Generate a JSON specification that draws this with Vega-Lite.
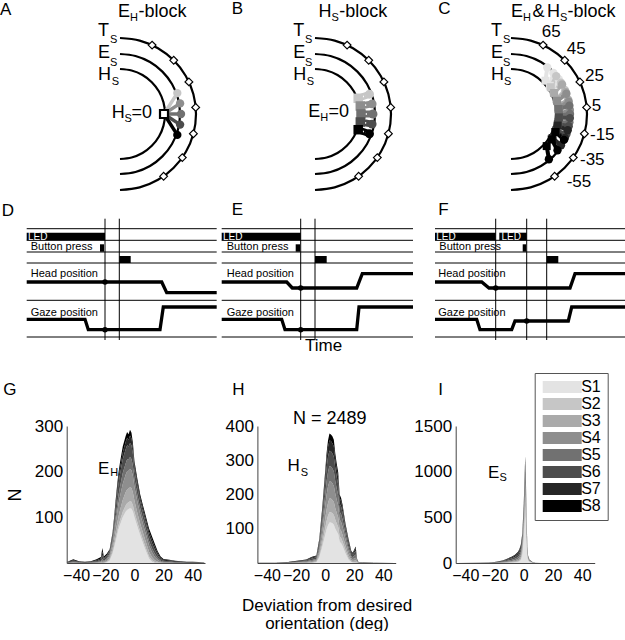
{
"$schema":"https://vega.github.io/schema/vega-lite/v6.json",
"background":"white",
"padding":0,
"config":{"font":"Liberation Sans","view":{"stroke":null},
 "axis":{"labelFontSize":17,"labelColor":"#000","ticks":false,"tickSize":0,"domainColor":"#444","domainWidth":1,"grid":false,"labelPadding":4,"titleFontWeight":"normal","titleColor":"#000","labelOverlap":false,"labelFlush":false,"labelBound":false,"labelSeparation":-15},
 "axisX":{"labelOverlap":false},
 "axisQuantitative":{"labelOverlap":false}},
"datasets":{
 "arcs":[
  {"arc":"T","o":0,"x":0,"y":76},{"arc":"T","o":1,"x":19.7,"y":73.4},{"arc":"T","o":2,"x":38,"y":65.8},{"arc":"T","o":3,"x":53.7,"y":53.7},{"arc":"T","o":4,"x":65.8,"y":38},{"arc":"T","o":5,"x":73.4,"y":19.7},{"arc":"T","o":6,"x":76,"y":0},{"arc":"T","o":7,"x":73.4,"y":-19.7},{"arc":"T","o":8,"x":65.8,"y":-38},{"arc":"T","o":9,"x":53.7,"y":-53.7},{"arc":"T","o":10,"x":38,"y":-65.8},{"arc":"T","o":11,"x":19.7,"y":-73.4},{"arc":"T","o":12,"x":0,"y":-76},
  {"arc":"E","o":0,"x":0,"y":60},{"arc":"E","o":1,"x":15.5,"y":58},{"arc":"E","o":2,"x":30,"y":52},{"arc":"E","o":3,"x":42.4,"y":42.4},{"arc":"E","o":4,"x":52,"y":30},{"arc":"E","o":5,"x":58,"y":15.5},{"arc":"E","o":6,"x":60,"y":0},{"arc":"E","o":7,"x":58,"y":-15.5},{"arc":"E","o":8,"x":52,"y":-30},{"arc":"E","o":9,"x":42.4,"y":-42.4},{"arc":"E","o":10,"x":30,"y":-52},{"arc":"E","o":11,"x":15.5,"y":-58},{"arc":"E","o":12,"x":0,"y":-60},
  {"arc":"H","o":0,"x":0,"y":45},{"arc":"H","o":1,"x":11.6,"y":43.5},{"arc":"H","o":2,"x":22.5,"y":39},{"arc":"H","o":3,"x":31.8,"y":31.8},{"arc":"H","o":4,"x":39,"y":22.5},{"arc":"H","o":5,"x":43.5,"y":11.6},{"arc":"H","o":6,"x":45,"y":0},{"arc":"H","o":7,"x":43.5,"y":-11.6},{"arc":"H","o":8,"x":39,"y":-22.5},{"arc":"H","o":9,"x":31.8,"y":-31.8},{"arc":"H","o":10,"x":22.5,"y":-39},{"arc":"H","o":11,"x":11.6,"y":-43.5},{"arc":"H","o":12,"x":0,"y":-45}
 ],
 "diamonds":[{"a":65,"x":32.1,"y":68.9},{"a":45,"x":53.7,"y":53.7},{"a":25,"x":68.9,"y":32.1},{"a":5,"x":75.7,"y":6.6},{"a":-15,"x":73.4,"y":-19.7},{"a":-35,"x":62.3,"y":-43.6},{"a":-55,"x":43.6,"y":-62.3}],
 "apairs":[
  {"s":"S2","p":1,"k":"sq","x":44,"y":0},{"s":"S2","p":1,"k":"ci","x":57.3,"y":20.9},
  {"s":"S4","p":2,"k":"sq","x":44,"y":0},{"s":"S4","p":2,"k":"ci","x":60.1,"y":10.6},
  {"s":"S5","p":3,"k":"sq","x":44,"y":0},{"s":"S5","p":3,"k":"ci","x":61,"y":0},
  {"s":"S6","p":4,"k":"sq","x":44,"y":0},{"s":"S6","p":4,"k":"ci","x":60.1,"y":-10.6},
  {"s":"S8","p":5,"k":"sq","x":44,"y":0},{"s":"S8","p":5,"k":"ci","x":57.3,"y":-20.9}
 ],
 "bpairs":[
  {"s":"S2","p":1,"k":"sq","x":43.2,"y":15.7},{"s":"S2","p":1,"k":"ci","x":54.5,"y":19.8},
  {"s":"S4","p":2,"k":"sq","x":45.3,"y":8.0},{"s":"S4","p":2,"k":"ci","x":57.1,"y":10.1},
  {"s":"S5","p":3,"k":"sq","x":46,"y":0},{"s":"S5","p":3,"k":"ci","x":58,"y":0},
  {"s":"S6","p":4,"k":"sq","x":45.3,"y":-8.0},{"s":"S6","p":4,"k":"ci","x":57.1,"y":-10.1},
  {"s":"S8","p":5,"k":"sq","x":43.2,"y":-15.7},{"s":"S8","p":5,"k":"ci","x":54.5,"y":-19.8}
 ],
 "cpairs":[
  {"s":"S1","p":1,"k":"sq","x":34.5,"y":33.3},{"s":"S1","p":1,"k":"ci","x":36.3,"y":46.5},
  {"s":"S1","p":2,"k":"sq","x":38.8,"y":28.2},{"s":"S1","p":2,"k":"ci","x":42.4,"y":41.0},
  {"s":"S1","p":3,"k":"sq","x":42.4,"y":22.5},{"s":"S1","p":3,"k":"ci","x":47.7,"y":34.7},
  {"s":"S2","p":4,"k":"sq","x":39.8,"y":26.8},{"s":"S2","p":4,"k":"ci","x":45.2,"y":37.9},
  {"s":"S2","p":5,"k":"sq","x":43.1,"y":21.0},{"s":"S2","p":5,"k":"ci","x":50.0,"y":31.3},
  {"s":"S2","p":6,"k":"sq","x":45.7,"y":14.8},{"s":"S2","p":6,"k":"ci","x":53.9,"y":24.0},
  {"s":"S3","p":7,"k":"sq","x":43.1,"y":21.0},{"s":"S3","p":7,"k":"ci","x":51.1,"y":29.5},
  {"s":"S3","p":8,"k":"sq","x":45.7,"y":14.8},{"s":"S3","p":8,"k":"ci","x":54.7,"y":22.1},
  {"s":"S3","p":9,"k":"sq","x":47.3,"y":8.3},{"s":"S3","p":9,"k":"ci","x":57.2,"y":14.3},
  {"s":"S4","p":10,"k":"sq","x":46.1,"y":13.2},{"s":"S4","p":10,"k":"ci","x":55.4,"y":20.2},
  {"s":"S4","p":11,"k":"sq","x":47.5,"y":6.7},{"s":"S4","p":11,"k":"ci","x":57.7,"y":12.3},
  {"s":"S4","p":12,"k":"sq","x":48,"y":0},{"s":"S4","p":12,"k":"ci","x":58.9,"y":4.1},
  {"s":"S5","p":13,"k":"sq","x":47.7,"y":5.0},{"s":"S5","p":13,"k":"ci","x":58.4,"y":8.2},
  {"s":"S5","p":14,"k":"sq","x":48.0,"y":-1.7},{"s":"S5","p":14,"k":"ci","x":59,"y":0},
  {"s":"S5","p":15,"k":"sq","x":47.3,"y":-8.3},{"s":"S5","p":15,"k":"ci","x":58.4,"y":-8.2},
  {"s":"S6","p":16,"k":"sq","x":47.9,"y":-3.4},{"s":"S6","p":16,"k":"ci","x":58.9,"y":-4.1},
  {"s":"S6","p":17,"k":"sq","x":46.9,"y":-10.0},{"s":"S6","p":17,"k":"ci","x":57.7,"y":-12.3},
  {"s":"S6","p":18,"k":"sq","x":45.1,"y":-16.4},{"s":"S6","p":18,"k":"ci","x":55.4,"y":-20.2},
  {"s":"S7","p":19,"k":"sq","x":46.6,"y":-11.6},{"s":"S7","p":19,"k":"ci","x":56.7,"y":-16.3},
  {"s":"S7","p":20,"k":"sq","x":44.5,"y":-18.0},{"s":"S7","p":20,"k":"ci","x":53.9,"y":-24.0},
  {"s":"S7","p":21,"k":"sq","x":41.6,"y":-24.0},{"s":"S7","p":21,"k":"ci","x":50.0,"y":-31.3},
  {"s":"S8","p":22,"k":"sq","x":44.5,"y":-18.0},{"s":"S8","p":22,"k":"ci","x":53.0,"y":-25.9},
  {"s":"S8","p":23,"k":"sq","x":40.7,"y":-25.4},{"s":"S8","p":23,"k":"ci","x":46.5,"y":-36.3},
  {"s":"S8","p":24,"k":"sq","x":35.7,"y":-32.1},{"s":"S8","p":24,"k":"ci","x":37.9,"y":-45.2}
 ],
 "g":[
  {"x":-46,"S1":0,"S2":0,"S3":0,"S4":0,"S5":0,"S6":1,"S7":1,"S8":1},
  {"x":-42,"S1":0,"S2":0,"S3":0,"S4":1,"S5":1,"S6":2,"S7":2,"S8":2},
  {"x":-38,"S1":0,"S2":0,"S3":0,"S4":0,"S5":1,"S6":1,"S7":1,"S8":1},
  {"x":-34,"S1":0,"S2":0,"S3":0,"S4":0,"S5":0,"S6":1,"S7":1,"S8":1},
  {"x":-30,"S1":0,"S2":0,"S3":0,"S4":0,"S5":1,"S6":1,"S7":1,"S8":1},
  {"x":-26,"S1":0,"S2":0,"S3":0,"S4":1,"S5":1,"S6":2,"S7":2,"S8":2},
  {"x":-23,"S1":0,"S2":0,"S3":1,"S4":1,"S5":2,"S6":3,"S7":3,"S8":3},
  {"x":-22,"S1":0,"S2":0,"S3":2,"S4":3,"S5":4,"S6":8,"S7":8,"S8":8},
  {"x":-21,"S1":0,"S2":0,"S3":1,"S4":2,"S5":2,"S6":3,"S7":3,"S8":3},
  {"x":-19,"S1":1,"S2":1,"S3":2,"S4":3,"S5":3,"S6":4,"S7":3,"S8":3},
  {"x":-17,"S1":5,"S2":2,"S3":4,"S4":5,"S5":4,"S6":5,"S7":3,"S8":2},
  {"x":-15,"S1":20,"S2":4,"S3":8,"S4":10,"S5":7,"S6":9,"S7":5,"S8":4},
  {"x":-14,"S1":32,"S2":5,"S3":11,"S4":14,"S5":10,"S6":13,"S7":7,"S8":6},
  {"x":-13,"S1":45,"S2":7,"S3":14,"S4":19,"S5":13,"S6":18,"S7":10,"S8":8},
  {"x":-12,"S1":58,"S2":8,"S3":17,"S4":23,"S5":16,"S6":22,"S7":12,"S8":10},
  {"x":-11,"S1":72,"S2":9,"S3":20,"S4":27,"S5":19,"S6":25,"S7":13,"S8":11},
  {"x":-10,"S1":82,"S2":10,"S3":22,"S4":30,"S5":21,"S6":27,"S7":14,"S8":12},
  {"x":-8,"S1":100,"S2":12,"S3":26,"S4":35,"S5":24,"S6":30,"S7":15,"S8":13},
  {"x":-6,"S1":112,"S2":14,"S3":29,"S4":38,"S5":25,"S6":31,"S7":16,"S8":13},
  {"x":-5,"S1":116,"S2":15,"S3":30,"S4":40,"S5":26,"S6":31,"S7":16,"S8":13},
  {"x":-4,"S1":118,"S2":15,"S3":30,"S4":39,"S5":25,"S6":28,"S7":15,"S8":12},
  {"x":-3,"S1":120,"S2":15,"S3":31,"S4":40,"S5":26,"S6":31,"S7":16,"S8":13},
  {"x":-2,"S1":119,"S2":15,"S3":30,"S4":39,"S5":25,"S6":30,"S7":15,"S8":12},
  {"x":-1,"S1":112,"S2":14,"S3":28,"S4":36,"S5":22,"S6":26,"S7":13,"S8":11},
  {"x":0,"S1":100,"S2":12,"S3":25,"S4":30,"S5":18,"S6":20,"S7":10,"S8":9},
  {"x":2,"S1":80,"S2":10,"S3":20,"S4":25,"S5":15,"S6":18,"S7":9,"S8":8},
  {"x":4,"S1":60,"S2":9,"S3":17,"S4":21,"S5":13,"S6":15,"S7":8,"S8":7},
  {"x":6,"S1":42,"S2":8,"S3":15,"S4":19,"S5":12,"S6":14,"S7":8,"S8":7},
  {"x":8,"S1":25,"S2":7,"S3":13,"S4":17,"S5":11,"S6":13,"S7":8,"S8":7},
  {"x":10,"S1":10,"S2":5,"S3":10,"S4":14,"S5":10,"S6":12,"S7":8,"S8":7},
  {"x":12,"S1":3,"S2":3,"S3":7,"S4":11,"S5":9,"S6":11,"S7":8,"S8":7},
  {"x":14,"S1":0,"S2":2,"S3":4,"S4":7,"S5":7,"S6":9,"S7":7,"S8":6},
  {"x":16,"S1":0,"S2":1,"S3":2,"S4":4,"S5":4,"S6":6,"S7":5,"S8":4},
  {"x":18,"S1":0,"S2":0,"S3":1,"S4":2,"S5":2,"S6":3,"S7":3,"S8":3},
  {"x":20,"S1":0,"S2":0,"S3":0,"S4":1,"S5":2,"S6":2,"S7":2,"S8":2},
  {"x":24,"S1":0,"S2":0,"S3":0,"S4":1,"S5":1,"S6":2,"S7":2,"S8":1},
  {"x":28,"S1":0,"S2":0,"S3":0,"S4":0,"S5":1,"S6":1,"S7":2,"S8":1},
  {"x":32,"S1":0,"S2":0,"S3":0,"S4":0,"S5":1,"S6":1,"S7":1,"S8":1},
  {"x":36,"S1":0,"S2":0,"S3":0,"S4":0,"S5":0,"S6":1,"S7":1,"S8":1},
  {"x":40,"S1":0,"S2":0,"S3":0,"S4":0,"S5":0,"S6":1,"S7":1,"S8":1},
  {"x":44,"S1":0,"S2":0,"S3":0,"S4":0,"S5":0,"S6":1,"S7":1,"S8":0},
  {"x":48,"S1":0,"S2":0,"S3":0,"S4":0,"S5":0,"S6":1,"S7":0,"S8":0}
 ],
 "h":[
  {"x":-46,"S1":0,"S2":0,"S3":0,"S4":0,"S5":0,"S6":0,"S7":1,"S8":0},
  {"x":-35,"S1":0,"S2":0,"S3":0,"S4":0,"S5":0,"S6":0,"S7":1,"S8":0},
  {"x":-26,"S1":0,"S2":0,"S3":0,"S4":0,"S5":1,"S6":1,"S7":1,"S8":0},
  {"x":-22,"S1":0,"S2":0,"S3":0,"S4":1,"S5":1,"S6":1,"S7":1,"S8":1},
  {"x":-18,"S1":0,"S2":0,"S3":1,"S4":1,"S5":1,"S6":2,"S7":1,"S8":1},
  {"x":-13,"S1":0,"S2":0,"S3":1,"S4":2,"S5":2,"S6":2,"S7":2,"S8":1},
  {"x":-9,"S1":0,"S2":1,"S3":2,"S4":3,"S5":3,"S6":4,"S7":3,"S8":2},
  {"x":-6,"S1":2,"S2":1,"S3":2,"S4":3,"S5":4,"S6":5,"S7":3,"S8":2},
  {"x":-4,"S1":15,"S2":4,"S3":7,"S4":10,"S5":10,"S6":11,"S7":8,"S8":5},
  {"x":-2,"S1":45,"S2":10,"S3":17,"S4":22,"S5":20,"S6":22,"S7":14,"S8":10},
  {"x":0,"S1":80,"S2":20,"S3":28,"S4":36,"S5":33,"S6":33,"S7":21,"S8":14},
  {"x":1,"S1":98,"S2":24,"S3":33,"S4":43,"S5":39,"S6":40,"S7":26,"S8":17},
  {"x":2,"S1":110,"S2":28,"S3":37,"S4":48,"S5":43,"S6":44,"S7":29,"S8":19},
  {"x":3,"S1":118,"S2":30,"S3":40,"S4":50,"S5":45,"S6":45,"S7":30,"S8":20},
  {"x":4,"S1":118,"S2":30,"S3":40,"S4":50,"S5":44,"S6":44,"S7":30,"S8":19},
  {"x":5,"S1":116,"S2":29,"S3":39,"S4":49,"S5":43,"S6":44,"S7":30,"S8":20},
  {"x":6,"S1":112,"S2":28,"S3":38,"S4":47,"S5":42,"S6":43,"S7":30,"S8":20},
  {"x":7,"S1":100,"S2":26,"S3":34,"S4":42,"S5":37,"S6":38,"S7":26,"S8":17},
  {"x":8,"S1":92,"S2":23,"S3":31,"S4":38,"S5":33,"S6":34,"S7":23,"S8":16},
  {"x":9,"S1":84,"S2":21,"S3":28,"S4":35,"S5":30,"S6":31,"S7":21,"S8":15},
  {"x":10,"S1":62,"S2":16,"S3":22,"S4":27,"S5":23,"S6":24,"S7":16,"S8":10},
  {"x":11,"S1":58,"S2":15,"S3":21,"S4":26,"S5":22,"S6":23,"S7":15,"S8":10},
  {"x":12,"S1":50,"S2":13,"S3":19,"S4":24,"S5":20,"S6":21,"S7":14,"S8":9},
  {"x":14,"S1":28,"S2":9,"S3":14,"S4":18,"S5":16,"S6":16,"S7":8,"S8":6},
  {"x":16,"S1":10,"S2":5,"S3":9,"S4":12,"S5":11,"S6":12,"S7":8,"S8":5},
  {"x":18,"S1":2,"S2":2,"S3":4,"S4":6,"S5":6,"S6":7,"S7":5,"S8":3},
  {"x":19,"S1":1,"S2":2,"S3":3,"S4":5,"S5":6,"S6":6,"S7":4,"S8":3},
  {"x":21,"S1":0,"S2":2,"S3":5,"S4":8,"S5":10,"S6":11,"S7":8,"S8":4},
  {"x":22,"S1":0,"S2":1,"S3":2,"S4":2,"S5":2,"S6":2,"S7":2,"S8":1},
  {"x":23,"S1":0,"S2":0,"S3":0,"S4":1,"S5":1,"S6":1,"S7":0,"S8":0},
  {"x":26,"S1":0,"S2":0,"S3":0,"S4":0,"S5":1,"S6":1,"S7":0,"S8":0},
  {"x":35,"S1":0,"S2":0,"S3":0,"S4":0,"S5":0,"S6":0,"S7":1,"S8":0},
  {"x":48,"S1":0,"S2":0,"S3":0,"S4":0,"S5":0,"S6":0,"S7":0,"S8":0}
 ],
 "i":[
  {"x":-46,"S1":0,"S2":0,"S3":0,"S4":0,"S5":0,"S6":0,"S7":0,"S8":0},
  {"x":-30,"S1":0,"S2":0,"S3":0,"S4":0,"S5":0,"S6":1,"S7":1,"S8":0},
  {"x":-24,"S1":0,"S2":0,"S3":0,"S4":1,"S5":1,"S6":2,"S7":1,"S8":1},
  {"x":-20,"S1":0,"S2":0,"S3":1,"S4":1,"S5":2,"S6":3,"S7":3,"S8":2},
  {"x":-17,"S1":0,"S2":1,"S3":1,"S4":2,"S5":3,"S6":5,"S7":4,"S8":2},
  {"x":-14,"S1":1,"S2":1,"S3":2,"S4":4,"S5":5,"S6":8,"S7":6,"S8":3},
  {"x":-11,"S1":2,"S2":2,"S3":4,"S4":7,"S5":9,"S6":12,"S7":9,"S8":5},
  {"x":-8,"S1":4,"S2":3,"S3":6,"S4":10,"S5":12,"S6":16,"S7":12,"S8":7},
  {"x":-6,"S1":6,"S2":4,"S3":8,"S4":13,"S5":15,"S6":20,"S7":15,"S8":9},
  {"x":-4,"S1":10,"S2":6,"S3":11,"S4":17,"S5":20,"S6":25,"S7":20,"S8":11},
  {"x":-3,"S1":16,"S2":8,"S3":14,"S4":21,"S5":24,"S6":30,"S7":24,"S8":13},
  {"x":-2,"S1":30,"S2":12,"S3":20,"S4":28,"S5":30,"S6":35,"S7":29,"S8":16},
  {"x":-1,"S1":80,"S2":25,"S3":35,"S4":45,"S5":40,"S6":45,"S7":32,"S8":18},
  {"x":0,"S1":250,"S2":60,"S3":70,"S4":80,"S5":60,"S6":60,"S7":45,"S8":25},
  {"x":0.5,"S1":380,"S2":85,"S3":95,"S4":100,"S5":75,"S6":75,"S7":55,"S8":35},
  {"x":1,"S1":520,"S2":110,"S3":120,"S4":125,"S5":95,"S6":90,"S7":70,"S8":40},
  {"x":1.5,"S1":390,"S2":85,"S3":95,"S4":100,"S5":75,"S6":70,"S7":50,"S8":35},
  {"x":2,"S1":180,"S2":45,"S3":50,"S4":55,"S5":40,"S6":35,"S7":25,"S8":20},
  {"x":2.5,"S1":60,"S2":20,"S3":22,"S4":22,"S5":18,"S6":16,"S7":12,"S8":10},
  {"x":3,"S1":25,"S2":10,"S3":10,"S4":10,"S5":8,"S6":7,"S7":6,"S8":4},
  {"x":4,"S1":10,"S2":5,"S3":5,"S4":4,"S5":4,"S6":3,"S7":2,"S8":2},
  {"x":6,"S1":2,"S2":2,"S3":1,"S4":1,"S5":1,"S6":1,"S7":1,"S8":1},
  {"x":8,"S1":0,"S2":1,"S3":0,"S4":0,"S5":1,"S6":0,"S7":1,"S8":0},
  {"x":12,"S1":0,"S2":0,"S3":0,"S4":0,"S5":0,"S6":1,"S7":0,"S8":0},
  {"x":20,"S1":0,"S2":0,"S3":0,"S4":0,"S5":0,"S6":0,"S7":0,"S8":0},
  {"x":48,"S1":0,"S2":0,"S3":0,"S4":0,"S5":0,"S6":0,"S7":0,"S8":0}
 ]
},
"spacing":0,
"resolve":{"legend":{"color":"independent"}},
"vconcat":[
 {"hconcat":[
  {"width":205,"height":200,
   "encoding":{"x":{"field":"x","type":"quantitative","scale":{"domain":[-120,85],"nice":false,"zero":false},"axis":null},
               "y":{"field":"y","type":"quantitative","scale":{"domain":[-86,114],"nice":false,"zero":false},"axis":null}},
   "layer":[
    {"data":{"name":"arcs"},"mark":{"type":"line","color":"#000","strokeWidth":2.2,"interpolate":"catmull-rom"},"encoding":{"detail":{"field":"arc","type":"nominal"},"order":{"field":"o","type":"quantitative"}}},
    {"data":{"name":"diamonds"},"mark":{"type":"point","shape":"diamond","filled":true,"fill":"#fff","stroke":"#000","strokeWidth":1.2,"size":60,"opacity":1}},
    {"data":{"name":"apairs"},"mark":{"type":"line","strokeWidth":3.5},"encoding":{"detail":{"field":"p","type":"nominal"},"color":{"field":"s","type":"nominal","scale":{"domain":["S1","S2","S3","S4","S5","S6","S7","S8"],"range":["#e3e3e3","#c6c6c6","#aaaaaa","#8e8e8e","#717171","#4c4c4c","#262626","#000000"]},"legend":null}}},
    {"data":{"name":"apairs"},"transform":[{"filter":"datum.k=='ci'"}],"mark":{"type":"point","shape":"circle","filled":true,"size":70,"opacity":1},"encoding":{"color":{"field":"s","type":"nominal","scale":{"domain":["S1","S2","S3","S4","S5","S6","S7","S8"],"range":["#e3e3e3","#c6c6c6","#aaaaaa","#8e8e8e","#717171","#4c4c4c","#262626","#000000"]},"legend":null}}},
    {"data":{"values":[{"x":44,"y":0}]},"mark":{"type":"point","shape":"square","filled":true,"fill":"#fff","stroke":"#000","strokeWidth":2.2,"size":64,"opacity":1}},
    {"data":{"values":[{"t":"T","x":-22,"y":83},{"t":"E","x":-22,"y":61},{"t":"H","x":-22,"y":39},{"t":"E","x":-2,"y":102},{"t":"-block","x":18.5,"y":102},{"t":"H","x":-8.3,"y":1},{"t":"=0","x":11.5,"y":1}]},"mark":{"type":"text","align":"left","baseline":"middle","fontSize":18},"encoding":{"text":{"field":"t","type":"nominal"}}},
    {"data":{"values":[{"t":"S","x":-10,"y":74},{"t":"S","x":-10,"y":51},{"t":"S","x":-8.3,"y":32},{"t":"H","x":10,"y":95.7},{"t":"S","x":4.5,"y":-5}]},"mark":{"type":"text","align":"left","baseline":"middle","fontSize":11},"encoding":{"text":{"field":"t","type":"nominal"}}},
    {"data":{"values":[{"t":"A","x":-120,"y":104.5}]},"mark":{"type":"text","align":"left","baseline":"middle","fontSize":17},"encoding":{"text":{"field":"t","type":"nominal"}}}
   ]},
  {"width":205,"height":200,
   "encoding":{"x":{"field":"x","type":"quantitative","scale":{"domain":[-110,95],"nice":false,"zero":false},"axis":null},
               "y":{"field":"y","type":"quantitative","scale":{"domain":[-86,114],"nice":false,"zero":false},"axis":null}},
   "layer":[
    {"data":{"name":"arcs"},"mark":{"type":"line","color":"#000","strokeWidth":2.2,"interpolate":"catmull-rom"},"encoding":{"detail":{"field":"arc","type":"nominal"},"order":{"field":"o","type":"quantitative"}}},
    {"data":{"name":"diamonds"},"mark":{"type":"point","shape":"diamond","filled":true,"fill":"#fff","stroke":"#000","strokeWidth":1.2,"size":60,"opacity":1}},
    {"data":{"name":"bpairs"},"mark":{"type":"line","strokeWidth":7},"encoding":{"detail":{"field":"p","type":"nominal"},"color":{"field":"s","type":"nominal","scale":{"domain":["S1","S2","S3","S4","S5","S6","S7","S8"],"range":["#e3e3e3","#c6c6c6","#aaaaaa","#8e8e8e","#717171","#4c4c4c","#262626","#000000"]},"legend":null}}},
    {"data":{"name":"bpairs"},"mark":{"type":"line","color":"#fff","strokeWidth":1.5,"strokeDash":[2,2]},"encoding":{"detail":{"field":"p","type":"nominal"}}},
    {"data":{"name":"bpairs"},"transform":[{"filter":"datum.k=='sq'"}],"mark":{"type":"point","shape":"square","filled":true,"size":90,"opacity":1},"encoding":{"color":{"field":"s","type":"nominal","scale":{"domain":["S1","S2","S3","S4","S5","S6","S7","S8"],"range":["#e3e3e3","#c6c6c6","#aaaaaa","#8e8e8e","#717171","#4c4c4c","#262626","#000000"]},"legend":null}}},
    {"data":{"name":"bpairs"},"transform":[{"filter":"datum.k=='ci'"}],"mark":{"type":"point","shape":"circle","filled":true,"size":80,"opacity":1},"encoding":{"color":{"field":"s","type":"nominal","scale":{"domain":["S1","S2","S3","S4","S5","S6","S7","S8"],"range":["#e3e3e3","#c6c6c6","#aaaaaa","#8e8e8e","#717171","#4c4c4c","#262626","#000000"]},"legend":null}}},
    {"data":{"values":[{"t":"T","x":-21.7,"y":83},{"t":"E","x":-21.7,"y":61},{"t":"H","x":-21.7,"y":39},{"t":"H","x":3.5,"y":102},{"t":"-block","x":24.2,"y":102},{"t":"E","x":-6.7,"y":2.3},{"t":"=0","x":13.5,"y":2.3}]},"mark":{"type":"text","align":"left","baseline":"middle","fontSize":18},"encoding":{"text":{"field":"t","type":"nominal"}}},
    {"data":{"values":[{"t":"S","x":-10,"y":74},{"t":"S","x":-10,"y":51},{"t":"S","x":-8.3,"y":32},{"t":"S","x":16.5,"y":95.7},{"t":"H","x":5.3,"y":-4}]},"mark":{"type":"text","align":"left","baseline":"middle","fontSize":11},"encoding":{"text":{"field":"t","type":"nominal"}}},
    {"data":{"values":[{"t":"B","x":-83.3,"y":105}]},"mark":{"type":"text","align":"left","baseline":"middle","fontSize":17},"encoding":{"text":{"field":"t","type":"nominal"}}}
   ]},
  {"width":215,"height":200,
   "encoding":{"x":{"field":"x","type":"quantitative","scale":{"domain":[-101,114],"nice":false,"zero":false},"axis":null},
               "y":{"field":"y","type":"quantitative","scale":{"domain":[-86,114],"nice":false,"zero":false},"axis":null}},
   "layer":[
    {"data":{"name":"arcs"},"mark":{"type":"line","color":"#000","strokeWidth":2.2,"interpolate":"catmull-rom"},"encoding":{"detail":{"field":"arc","type":"nominal"},"order":{"field":"o","type":"quantitative"}}},
    {"data":{"name":"diamonds"},"mark":{"type":"point","shape":"diamond","filled":true,"fill":"#fff","stroke":"#000","strokeWidth":1.2,"size":60,"opacity":1}},
    {"data":{"name":"cpairs"},"mark":{"type":"line","strokeWidth":4},"encoding":{"detail":{"field":"p","type":"nominal"},"color":{"field":"s","type":"nominal","scale":{"domain":["S1","S2","S3","S4","S5","S6","S7","S8"],"range":["#e3e3e3","#c6c6c6","#aaaaaa","#8e8e8e","#717171","#4c4c4c","#262626","#000000"]},"legend":null}}},
    {"data":{"name":"cpairs"},"transform":[{"filter":"datum.k=='sq'"}],"mark":{"type":"point","shape":"square","filled":true,"size":64,"opacity":1},"encoding":{"color":{"field":"s","type":"nominal","scale":{"domain":["S1","S2","S3","S4","S5","S6","S7","S8"],"range":["#e3e3e3","#c6c6c6","#aaaaaa","#8e8e8e","#717171","#4c4c4c","#262626","#000000"]},"legend":null}}},
    {"data":{"name":"cpairs"},"transform":[{"filter":"datum.k=='ci'"}],"mark":{"type":"point","shape":"circle","filled":true,"size":70,"opacity":1},"encoding":{"color":{"field":"s","type":"nominal","scale":{"domain":["S1","S2","S3","S4","S5","S6","S7","S8"],"range":["#e3e3e3","#c6c6c6","#aaaaaa","#8e8e8e","#717171","#4c4c4c","#262626","#000000"]},"legend":null}}},
    {"data":{"values":[{"t":"T","x":-20,"y":83},{"t":"E","x":-20,"y":61},{"t":"H","x":-20,"y":39},{"t":"E","x":0,"y":102},{"t":"&","x":21.5,"y":102},{"t":"H","x":36,"y":102},{"t":"-block","x":56.5,"y":102}]},"mark":{"type":"text","align":"left","baseline":"middle","fontSize":18},"encoding":{"text":{"field":"t","type":"nominal"}}},
    {"data":{"values":[{"t":"S","x":-8,"y":74},{"t":"S","x":-8,"y":51},{"t":"S","x":-7,"y":32},{"t":"H","x":12,"y":95.7},{"t":"S","x":49,"y":95.7}]},"mark":{"type":"text","align":"left","baseline":"middle","fontSize":11},"encoding":{"text":{"field":"t","type":"nominal"}}},
    {"data":{"values":[{"t":"65","x":30.7,"y":81.7},{"t":"45","x":55.7,"y":65},{"t":"25","x":74,"y":38.3},{"t":"5","x":80.7,"y":8.3},{"t":"-15","x":79,"y":-21},{"t":"-35","x":69,"y":-46},{"t":"-55","x":55.7,"y":-67.7}]},"mark":{"type":"text","align":"left","baseline":"middle","fontSize":17},"encoding":{"text":{"field":"t","type":"nominal"}}},
    {"data":{"values":[{"t":"C","x":-72.7,"y":105}]},"mark":{"type":"text","align":"left","baseline":"middle","fontSize":17},"encoding":{"text":{"field":"t","type":"nominal"}}}
   ]}
 ],"spacing":0,"bounds":"flush","resolve":{"legend":{"color":"independent"}}},
 {"hconcat":[
  {"width":205,"height":169.5,
   "encoding":{"x":{"field":"x","type":"quantitative","scale":{"domain":[0,205],"nice":false,"zero":false},"axis":null},
               "y":{"field":"y","type":"quantitative","scale":{"domain":[0,169.5],"reverse":true,"nice":false,"zero":false},"axis":null}},
   "layer":[
    {"data":{"values":[{"x":26.7,"x2":216.7,"y":26.7},{"x":26.7,"x2":216.7,"y":38.3},{"x":26.7,"x2":216.7,"y":50},{"x":26.7,"x2":216.7,"y":61},{"x":26.7,"x2":216.7,"y":98.3},{"x":26.7,"x2":216.7,"y":135}]},"mark":{"type":"rule","color":"#000","strokeWidth":1},"encoding":{"x2":{"field":"x2"}}},
    {"data":{"values":[{"x":105,"y":16.7,"y2":138},{"x":119.3,"y":16.7,"y2":138}]},"mark":{"type":"rule","color":"#000","strokeWidth":1},"encoding":{"y2":{"field":"y2"}}},
    {"data":{"values":[{"x":26.7,"x2":105,"y":30.7,"y2":38.3},{"x":100,"x2":104,"y":42.3,"y2":49.7},{"x":119.3,"x2":130.7,"y":54,"y2":61}]},"mark":{"type":"rect","color":"#000"},"encoding":{"x2":{"field":"x2"},"y2":{"field":"y2"}}},
    {"data":{"values":[{"g":"head","x":26.7,"y":80},{"g":"head","x":161.7,"y":80},{"g":"head","x":166.7,"y":90.7},{"g":"head","x":216.7,"y":90.7},{"g":"gaze","x":26.7,"y":117.3},{"g":"gaze","x":85,"y":117.3},{"g":"gaze","x":88.3,"y":127.7},{"g":"gaze","x":160,"y":127.7},{"g":"gaze","x":163.3,"y":105},{"g":"gaze","x":216.7,"y":105}]},"mark":{"type":"line","color":"#000","strokeWidth":3.3},"encoding":{"detail":{"field":"g","type":"nominal"}}},
    {"data":{"values":[{"x":105,"y":80},{"x":105,"y":127.7}]},"mark":{"type":"point","shape":"circle","filled":true,"color":"#000","size":30,"opacity":1}},
    {"data":{"values":[{"t":"Button press","x":30.7,"y":45.3},{"t":"Head position","x":30.7,"y":72},{"t":"Gaze position","x":30.7,"y":110.5}]},"mark":{"type":"text","align":"left","baseline":"middle","fontSize":11},"encoding":{"text":{"field":"t","type":"nominal"}}},
    {"data":{"values":[{"t":"LED","x":28,"y":34.5}]},"mark":{"type":"text","align":"left","baseline":"middle","fontSize":10,"color":"#fff"},"encoding":{"text":{"field":"t","type":"nominal"}}},
    {"data":{"values":[{"t":"D","x":1.7,"y":9}]},"mark":{"type":"text","align":"left","baseline":"middle","fontSize":17},"encoding":{"text":{"field":"t","type":"nominal"}}}
   ]},
  {"width":205,"height":169.5,
   "encoding":{"x":{"field":"x","type":"quantitative","scale":{"domain":[0,205],"nice":false,"zero":false},"axis":null},
               "y":{"field":"y","type":"quantitative","scale":{"domain":[0,169.5],"reverse":true,"nice":false,"zero":false},"axis":null}},
   "layer":[
    {"data":{"values":[{"x":16.7,"x2":208,"y":26.7},{"x":16.7,"x2":208,"y":38.3},{"x":16.7,"x2":208,"y":50},{"x":16.7,"x2":208,"y":61},{"x":16.7,"x2":208,"y":98.3},{"x":16.7,"x2":208,"y":135}]},"mark":{"type":"rule","color":"#000","strokeWidth":1},"encoding":{"x2":{"field":"x2"}}},
    {"data":{"values":[{"x":95.7,"y":16.7,"y2":138},{"x":110,"y":16.7,"y2":138}]},"mark":{"type":"rule","color":"#000","strokeWidth":1},"encoding":{"y2":{"field":"y2"}}},
    {"data":{"values":[{"x":16.7,"x2":95.7,"y":30.7,"y2":38.3},{"x":90.7,"x2":95,"y":42.3,"y2":49.7},{"x":110,"x2":121.7,"y":54,"y2":61}]},"mark":{"type":"rect","color":"#000"},"encoding":{"x2":{"field":"x2"},"y2":{"field":"y2"}}},
    {"data":{"values":[{"g":"head","x":16.7,"y":80},{"g":"head","x":81.7,"y":80},{"g":"head","x":87.3,"y":86},{"g":"head","x":151.7,"y":86},{"g":"head","x":157.3,"y":71.7},{"g":"head","x":208,"y":71.7},{"g":"gaze","x":16.7,"y":117.3},{"g":"gaze","x":76.7,"y":117.3},{"g":"gaze","x":80,"y":127.7},{"g":"gaze","x":151.7,"y":127.7},{"g":"gaze","x":154,"y":105},{"g":"gaze","x":208,"y":105}]},"mark":{"type":"line","color":"#000","strokeWidth":3.3},"encoding":{"detail":{"field":"g","type":"nominal"}}},
    {"data":{"values":[{"x":95.7,"y":86},{"x":95.7,"y":127.7}]},"mark":{"type":"point","shape":"circle","filled":true,"color":"#000","size":30,"opacity":1}},
    {"data":{"values":[{"t":"Button press","x":21.7,"y":45.3},{"t":"Head position","x":21.7,"y":72},{"t":"Gaze position","x":21.7,"y":110.5}]},"mark":{"type":"text","align":"left","baseline":"middle","fontSize":11},"encoding":{"text":{"field":"t","type":"nominal"}}},
    {"data":{"values":[{"t":"LED","x":18,"y":34.5}]},"mark":{"type":"text","align":"left","baseline":"middle","fontSize":10,"color":"#fff"},"encoding":{"text":{"field":"t","type":"nominal"}}},
    {"data":{"values":[{"t":"E","x":26.7,"y":7.5},{"t":"Time","x":100,"y":144}]},"mark":{"type":"text","align":"left","baseline":"middle","fontSize":17},"encoding":{"text":{"field":"t","type":"nominal"}}}
   ]},
  {"width":215,"height":169.5,
   "encoding":{"x":{"field":"x","type":"quantitative","scale":{"domain":[0,215],"nice":false,"zero":false},"axis":null},
               "y":{"field":"y","type":"quantitative","scale":{"domain":[0,169.5],"reverse":true,"nice":false,"zero":false},"axis":null}},
   "layer":[
    {"data":{"values":[{"x":25,"x2":215,"y":26.7},{"x":25,"x2":215,"y":38.3},{"x":25,"x2":215,"y":50},{"x":25,"x2":215,"y":61},{"x":25,"x2":215,"y":98.3},{"x":25,"x2":215,"y":135}]},"mark":{"type":"rule","color":"#000","strokeWidth":1},"encoding":{"x2":{"field":"x2"}}},
    {"data":{"values":[{"x":85.7,"y":16.7,"y2":138},{"x":116.7,"y":16.7,"y2":138},{"x":136.7,"y":16.7,"y2":138}]},"mark":{"type":"rule","color":"#000","strokeWidth":1},"encoding":{"y2":{"field":"y2"}}},
    {"data":{"values":[{"x":25,"x2":85.7,"y":30.7,"y2":38.3},{"x":89.3,"x2":116.7,"y":30.7,"y2":38.3},{"x":112.7,"x2":116,"y":42.3,"y2":49.7},{"x":136.7,"x2":148.3,"y":54,"y2":61}]},"mark":{"type":"rect","color":"#000"},"encoding":{"x2":{"field":"x2"},"y2":{"field":"y2"}}},
    {"data":{"values":[{"g":"head","x":25,"y":80},{"g":"head","x":71.7,"y":80},{"g":"head","x":79,"y":86},{"g":"head","x":160,"y":86},{"g":"head","x":165,"y":71.7},{"g":"head","x":215,"y":71.7},{"g":"gaze","x":25,"y":117.3},{"g":"gaze","x":66.7,"y":117.3},{"g":"gaze","x":70,"y":127.7},{"g":"gaze","x":101.7,"y":127.7},{"g":"gaze","x":105,"y":119},{"g":"gaze","x":158.3,"y":119},{"g":"gaze","x":161.7,"y":105},{"g":"gaze","x":215,"y":105}]},"mark":{"type":"line","color":"#000","strokeWidth":3.3},"encoding":{"detail":{"field":"g","type":"nominal"}}},
    {"data":{"values":[{"x":85.7,"y":86},{"x":116.7,"y":119}]},"mark":{"type":"point","shape":"circle","filled":true,"color":"#000","size":30,"opacity":1}},
    {"data":{"values":[{"t":"Button press","x":29.3,"y":45.3},{"t":"Head position","x":28.3,"y":72},{"t":"Gaze position","x":28.3,"y":110.5}]},"mark":{"type":"text","align":"left","baseline":"middle","fontSize":11},"encoding":{"text":{"field":"t","type":"nominal"}}},
    {"data":{"values":[{"t":"LED","x":26.3,"y":34.5},{"t":"LED","x":91.5,"y":34.5}]},"mark":{"type":"text","align":"left","baseline":"middle","fontSize":10,"color":"#fff"},"encoding":{"text":{"field":"t","type":"nominal"}}},
    {"data":{"values":[{"t":"F","x":28.3,"y":7.5}]},"mark":{"type":"text","align":"left","baseline":"middle","fontSize":17},"encoding":{"text":{"field":"t","type":"nominal"}}}
   ]}
 ],"spacing":0,"bounds":"flush","resolve":{"legend":{"color":"independent"}}},
 {"hconcat":[
  {"width":15,"height":137,"data":{"values":[{"a":1}]},"mark":{"type":"point","opacity":0},"encoding":{}},
  {"width":138.3,"height":137,
   "layer":[
    {"data":{"name":"g"},"transform":[{"fold":["S1","S2","S3","S4","S5","S6","S7","S8"],"as":["s","n"]}],
     "mark":{"type":"area","interpolate":"linear"},
     "encoding":{
      "x":{"field":"x","type":"quantitative","scale":{"domain":[-46.5,48.5],"nice":false,"zero":false},"axis":{"tickCount":4,"title":null,"labelOverlap":false,"labelSeparation":-15,"labelFlush":false,"labelFontSize":16}},
      "y":{"field":"n","type":"quantitative","stack":"zero","scale":{"domain":[0,300],"nice":false,"zero":false},"axis":{"values":[100,200,300],"title":"N","titleFontSize":18,"titlePadding":10,"labelOverlap":false}},
      "color":{"field":"s","type":"nominal","scale":{"domain":["S1","S2","S3","S4","S5","S6","S7","S8"],"range":["#e3e3e3","#c6c6c6","#aaaaaa","#8e8e8e","#717171","#4c4c4c","#262626","#000000"]},"legend":null},
      "order":{"field":"s","type":"ordinal"}}},
    {"data":{"values":[{"t":"G","x":-90,"y":378.8},{"t":"E","x":-25,"y":206.9}]},"mark":{"type":"text","align":"left","baseline":"middle","fontSize":17},"encoding":{"x":{"field":"x","type":"quantitative"},"y":{"field":"y","type":"quantitative"},"text":{"field":"t","type":"nominal"}}},
    {"data":{"values":[{"t":"H","x":-16.5,"y":196}]},"mark":{"type":"text","align":"left","baseline":"middle","fontSize":11},"encoding":{"x":{"field":"x","type":"quantitative"},"y":{"field":"y","type":"quantitative"},"text":{"field":"t","type":"nominal"}}}
   ]},
  {"hconcat":[
   {"width":138.3,"height":137,
    "layer":[
     {"data":{"name":"h"},"transform":[{"fold":["S1","S2","S3","S4","S5","S6","S7","S8"],"as":["s","n"]}],
      "mark":{"type":"area","interpolate":"linear"},
      "encoding":{
       "x":{"field":"x","type":"quantitative","scale":{"domain":[-46.5,48.5],"nice":false,"zero":false},"axis":{"tickCount":4,"title":["Deviation from desired","orientation (deg)"],"titleFontSize":17,"titlePadding":14,"titleLineHeight":18,"labelOverlap":false,"labelSeparation":-15,"labelFlush":false,"labelFontSize":16}},
       "y":{"field":"n","type":"quantitative","stack":"zero","scale":{"domain":[0,400],"nice":false,"zero":false},"axis":{"values":[100,200,300,400],"title":null,"labelOverlap":false}},
       "color":{"field":"s","type":"nominal","scale":{"domain":["S1","S2","S3","S4","S5","S6","S7","S8"],"range":["#e3e3e3","#c6c6c6","#aaaaaa","#8e8e8e","#717171","#4c4c4c","#262626","#000000"]},"legend":null},
       "order":{"field":"s","type":"ordinal"}}},
     {"data":{"values":[{"t":"H","x":-63.7,"y":505.1},{"t":"H","x":-25.9,"y":283.2}]},"mark":{"type":"text","align":"left","baseline":"middle","fontSize":17},"encoding":{"x":{"field":"x","type":"quantitative"},"y":{"field":"y","type":"quantitative"},"text":{"field":"t","type":"nominal"}}},
     {"data":{"values":[{"t":"N = 2489","x":3.2,"y":420.4}]},"mark":{"type":"text","align":"center","baseline":"middle","fontSize":18},"encoding":{"x":{"field":"x","type":"quantitative"},"y":{"field":"y","type":"quantitative"},"text":{"field":"t","type":"nominal"}}},
     {"data":{"values":[{"t":"S","x":-16.8,"y":264.2}]},"mark":{"type":"text","align":"left","baseline":"middle","fontSize":11},"encoding":{"x":{"field":"x","type":"quantitative"},"y":{"field":"y","type":"quantitative"},"text":{"field":"t","type":"nominal"}}}
    ]},
   {"width":139,"height":137,
    "layer":[
     {"data":{"name":"i"},"transform":[{"fold":["S1","S2","S3","S4","S5","S6","S7","S8"],"as":["s","n"]}],
      "mark":{"type":"area","interpolate":"linear"},
      "encoding":{
       "x":{"field":"x","type":"quantitative","scale":{"domain":[-46.5,48.5],"nice":false,"zero":false},"axis":{"tickCount":4,"title":null,"labelOverlap":false,"labelSeparation":-15,"labelFlush":false,"labelFontSize":16}},
       "y":{"field":"n","type":"quantitative","stack":"zero","scale":{"domain":[0,1500],"nice":false,"zero":false},"axis":{"values":[0,500,1000,1500],"format":"d","title":null,"labelOverlap":false}},
       "color":{"field":"s","type":"nominal","scale":{"domain":["S1","S2","S3","S4","S5","S6","S7","S8"],"range":["#e3e3e3","#c6c6c6","#aaaaaa","#8e8e8e","#717171","#4c4c4c","#262626","#000000"]},
        "legend":{"orient":"none","legendX":79,"legendY":-53,"title":null,"symbolType":"M-3.25,-1H3.25V1H-3.25Z","symbolSize":144,"symbolOffset":13.5,"symbolStrokeWidth":0,"labelFontSize":16,"labelOffset":11,"padding":6,"rowPadding":1,"strokeColor":"#555","fillColor":"#fff"}},
       "order":{"field":"s","type":"ordinal"}}},
     {"data":{"values":[{"t":"I","x":-58.5,"y":1894},{"t":"E","x":-24.4,"y":988.7}]},"mark":{"type":"text","align":"left","baseline":"middle","fontSize":17},"encoding":{"x":{"field":"x","type":"quantitative"},"y":{"field":"y","type":"quantitative"},"text":{"field":"t","type":"nominal"}}},
     {"data":{"values":[{"t":"S","x":-16.5,"y":936.1}]},"mark":{"type":"text","align":"left","baseline":"middle","fontSize":11},"encoding":{"x":{"field":"x","type":"quantitative"},"y":{"field":"y","type":"quantitative"},"text":{"field":"t","type":"nominal"}}}
    ]}
  ],"spacing":59.3,"bounds":"flush","resolve":{"legend":{"color":"independent"}}}
 ],"spacing":51.7,"bounds":"flush","resolve":{"legend":{"color":"independent"}}}
]
}
